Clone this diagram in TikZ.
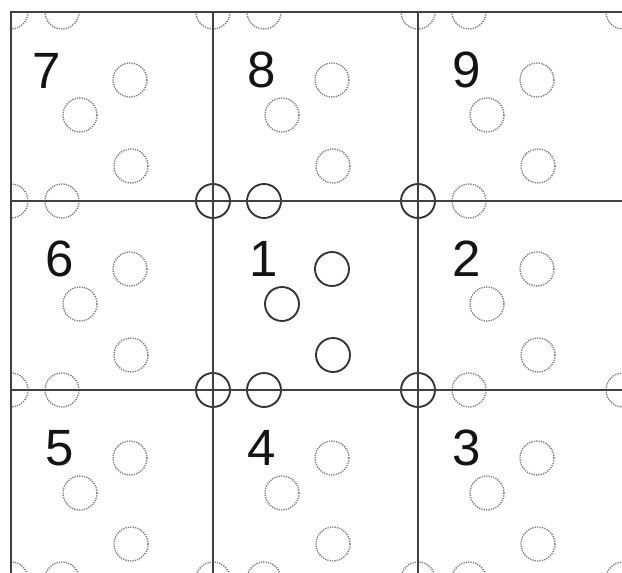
\documentclass[tikz,border=0pt]{standalone}
\usepackage{fontspec}
\setmainfont{Liberation Sans}
\begin{document}
\begin{tikzpicture}[x=1pt,y=-1pt,
  gridline/.style={draw=black!75, line width=2.1pt},
  ghost/.style={draw=black!55, line width=1.4pt, dash pattern=on 1.2pt off 1.2pt},
  atom/.style={draw=black!80, line width=1.8pt},
  lab/.style={font=\fontsize{51}{51}\selectfont, text=black!92, inner sep=0pt, anchor=center}]
\useasboundingbox (0,0) rectangle (622,573);
\fill[white] (0,0) rectangle (622,573);
\def\R{17}
\begin{scope}
\clip (10,11) rectangle (622,573);
% ghost (dotted) circles of the periodic pattern
\foreach \xo in {11,213,418,623}{
  \foreach \yo in {12,201,390,579}{
    \pgfmathparse{(\xo>620 && \yo==201) ? 0 : 1}
    \ifnum\pgfmathresult=1
      \draw[ghost] (\xo,\yo) circle[radius=\R];
    \fi
    \draw[ghost] (\xo+51,\yo) circle[radius=\R];
    \draw[ghost] (\xo+119,\yo+68) circle[radius=\R];
    \draw[ghost] (\xo+69,\yo+103) circle[radius=\R];
    \draw[ghost] (\xo+120,\yo+154) circle[radius=\R];
  }
}
% solid circles of the central cell
\foreach \p in {(213,201),(418,201),(213,390),(418,390),(264,201),(264,390),
                (332,269),(282,304),(333,355)}{
  \draw[atom] \p circle[radius=\R];
}
\end{scope}
% grid lines
\foreach \yo in {12,201,390}{
  \draw[gridline] (10,\yo) -- (622,\yo);
}
\foreach \xo in {11,213,418}{
  \draw[gridline] (\xo,11) -- (\xo,573);
}
% labels
\node[lab] (l7) at (47,71) {7};
\node[lab] (l8) at (262,70) {8};
\node[lab] (l9) at (467,70) {9};
\node[lab] (l6) at (60,259) {6};
\node[lab] (l1) at (264,259) {1};
\node[lab] (l2) at (467,259) {2};
\node[lab] (l5) at (60,448) {5};
\node[lab] (l4) at (262,448) {4};
\node[lab] (l3) at (467,448) {3};
\end{tikzpicture}
\end{document}
